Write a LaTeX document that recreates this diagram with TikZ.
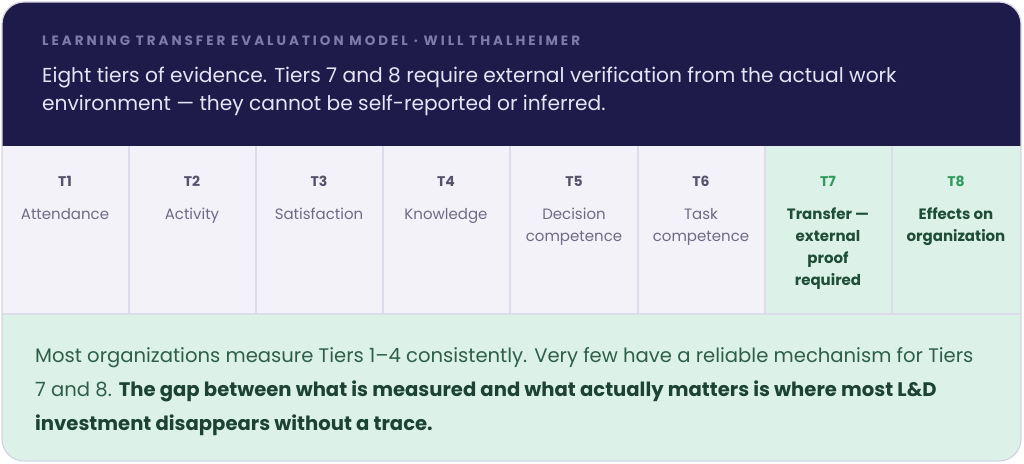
\documentclass[tikz,border=0pt]{standalone}
\usepackage{fontspec}
\setmainfont{Poppins}
\definecolor{navy}{HTML}{1E1B4B}
\definecolor{kicker}{HTML}{7E7BA8}
\definecolor{titletext}{HTML}{E6E4F5}
\definecolor{lavcell}{HTML}{F3F2F8}
\definecolor{gridline}{HTML}{DEDCEA}
\definecolor{mintbg}{HTML}{DCF2E8}
\definecolor{tiergray}{HTML}{55526A}
\definecolor{tiergreen}{HTML}{2E9A5C}
\definecolor{labelgray}{HTML}{6E6B85}
\definecolor{labelgreen}{HTML}{1F4D38}
\definecolor{notetext}{HTML}{2E5E4A}
\definecolor{notebold}{HTML}{1B4233}
\definecolor{cardedge}{HTML}{D5D3E3}

\tikzset{
	tierid/.style = {font=\fontsize{14}{16}\selectfont\bfseries, text=tiergray, inner sep=0pt},
	tierlabel/.style = {font=\fontsize{15}{22}\selectfont, text=labelgray, align=center, anchor=north, inner sep=0pt},
	greenid/.style = {tierid, text=tiergreen},
	greenlabel/.style = {tierlabel, font=\fontsize{15}{22}\selectfont\bfseries, text=labelgreen}
}

\begin{document}
\begin{tikzpicture}[x=1pt, y=-1pt]
	\useasboundingbox (0,0) rectangle (1024,463);
	\begin{scope}
		\clip[rounded corners=22pt] (2,2) rectangle (1021,461);
		\fill[navy] (2,2) rectangle (1021,146);
		\fill[lavcell] (2,146) rectangle (1021,314);
		\fill[mintbg] (765,146) rectangle (1021,314);
		\fill[mintbg] (2,314) rectangle (1021,461);
		\foreach \x in {129,256,383,510,638,765,892}
			\draw[gridline, line width=1.2pt] (\x,146) -- (\x,314);
		\draw[gridline, line width=1.5pt] (2,314) -- (1021,314);
	\end{scope}
	\draw[cardedge, line width=1.2pt, rounded corners=22pt] (2,2) rectangle (1021,461);

	\node[anchor=base west, inner sep=0pt, text=kicker, font=\fontsize{13.5}{15}\selectfont\bfseries\addfontfeature{LetterSpace=22}] (kicker) at (42,45) {LEARNING TRANSFER EVALUATION MODEL · WILL THALHEIMER};
	\node[anchor=north west, inner sep=0pt, text=titletext, align=left, font=\fontsize{20.2}{28}\selectfont] (headline) at (42,67) {Eight tiers of evidence. Tiers 7 and 8 require external verification from the actual work\\environment — they cannot be self-reported or inferred.};

	\node[tierid] (t1) at (65,181) {T1};
	\node[tierlabel] (l1) at (65,208) {Attendance};
	\node[tierid] (t2) at (192,181) {T2};
	\node[tierlabel] (l2) at (192,208) {Activity};
	\node[tierid] (t3) at (319,181) {T3};
	\node[tierlabel] (l3) at (319,208) {Satisfaction};
	\node[tierid] (t4) at (446,181) {T4};
	\node[tierlabel] (l4) at (446,208) {Knowledge};
	\node[tierid] (t5) at (574,181) {T5};
	\node[tierlabel] (l5) at (574,208) {Decision\\competence};
	\node[tierid] (t6) at (701,181) {T6};
	\node[tierlabel] (l6) at (701,208) {Task\\competence};
	\node[greenid] (t7) at (828,181) {T7};
	\node[greenlabel] (l7) at (828,208) {Transfer —\\external\\proof\\required};
	\node[greenid] (t8) at (956,181) {T8};
	\node[greenlabel] (l8) at (956,208) {Effects on\\organization};

	\node[anchor=north west, inner sep=0pt, text=notetext, align=left, font=\fontsize{19.6}{34}\selectfont] (takeaway) at (35,347) {Most organizations measure Tiers 1–4 consistently. Very few have a reliable mechanism for Tiers\\7 and 8. \textbf{\color{notebold}The gap between what is measured and what actually matters is where most L\&D}\\\textbf{\color{notebold}investment disappears without a trace.}};
\end{tikzpicture}
\end{document}
